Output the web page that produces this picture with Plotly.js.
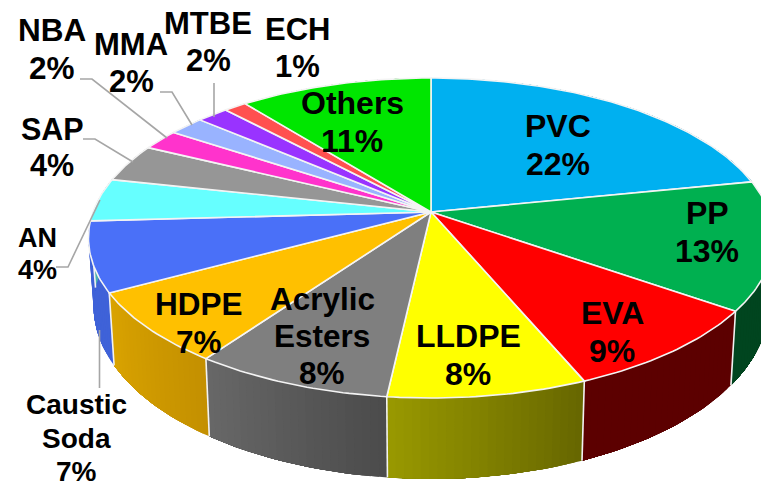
<!DOCTYPE html>
<html>
<head>
<meta charset="utf-8">
<script src="https://cdn.plot.ly/plotly-3.0.1.min.js"></script>
<style>html,body{margin:0;padding:0;background:#fff}#chart{width:761px;height:483px}</style>
</head>
<body>
<div id="chart"></div>
<script>
var categories = ["PVC","PP","EVA","LLDPE","Acrylic<br>Esters","HDPE","Caustic<br>Soda","AN","SAP","NBA","MMA","MTBE","ECH","Others"];
var values = [21.8,13.0,8.9,8.05,8.05,7.25,7.05,4.35,3.85,2.1,1.95,1.75,1.25,10.65];
var topColors = ["#00B0F0","#00B050","#FF0000","#FFFF00","#7F7F7F","#FFC000","#4A70F8","#66FFFF","#969696","#FF33CC","#99B3FF","#9933FF","#FF5050","#00E600"];
var sideStart = ["#0080B0","#00451F","#5C0000","#666600","#4B4B4B","#C49000","#3F62D8","#48B0B0","#6A6A6A","#B02490","#6C80B4","#6C24B4","#B43838","#00A000"];
var sideEnd   = ["#0080B0","#00451F","#5C0000","#999900","#686868","#D9A300","#3F62D8","#48B0B0","#6A6A6A","#B02490","#6C80B4","#6C24B4","#B43838","#00A000"];

// label placement in the chart's 761x483 space: [x, y, font size]
var labelPlace = [[558,145,32],[707,232,32],[612,332,32],[468,355,32],[322,336,31.5],[199,323,31.5],[76,438,28],[37,254,27],[52,147,30.5],[52,49,31.5],[131,63,31],[208,42,31],[297,48,31],[352,122,32]];
var leaders = [
  [[100,200],[68,267],[56,267]],
  [[99.5,330],[99.5,388]],
  [[133,162],[95,139],[83,139]],
  [[167,138],[92,79],[80,79]],
  [[192,125],[172,92],[160,92]],
  [[214,117],[214,83]]
];

// perspective projection of the pie disc
var CX=431, CY=212, RX=338, RY=155.8, K=0.1625;
function topPt(a){ var u=Math.sin(a), v=Math.cos(a), d=1+K*v; return [CX+RX*u/d, CY-RY*v/d]; }
function lowPt(a){ var p=topPt(a); return [CX+0.985*(p[0]-CX), CY+1.08*(p[1]-CY)+66]; }
function hex(c){ return [1,3,5].map(function(i){return parseInt(c.substr(i,2),16);}); }
function mix(a,b,t){ var x=hex(a),y=hex(b); return "rgb("+x.map(function(v,i){return Math.round(v+(y[i]-v)*t);}).join(",")+")"; }
function poly(pts,fill,lineColor,lineWidth){
  return {type:"scatter",mode:"lines",x:pts.map(function(p){return p[0];}),y:pts.map(function(p){return p[1];}),
    fill:"toself",fillcolor:fill,line:{color:lineColor,width:lineWidth},hoverinfo:"skip",showlegend:false};
}

var total = values.reduce(function(s,v){return s+v;},0);
var sides=[], edges=[], tops=[], cum=0;
values.forEach(function(val,i){
  var a0=cum/total*2*Math.PI; cum+=val; var a1=cum/total*2*Math.PI;
  var n=Math.max(4,Math.round(val*3));
  for(var j=0;j<n;j++){
    // each band reaches to the slice's far end; the next band paints over it, so no seams show
    var s=a0+(a1-a0)*j/n, c=mix(sideStart[i],sideEnd[i],(j+0.5)/n), wall=[], steps=n-j;
    for(var t=0;t<=steps;t++) wall.push(topPt(s+(a1-s)*t/steps));
    for(var t2=steps;t2>=0;t2--) wall.push(lowPt(s+(a1-s)*t2/steps));
    sides.push(poly(wall,c,c,0));
  }
  // white seam between neighbouring side walls
  if(Math.cos(a1)<0.05){
    var p=topPt(a1), q=lowPt(a1);
    edges.push({type:"scatter",mode:"lines",x:[p[0],q[0]],y:[p[1],q[1]],line:{color:"#F2F2F2",width:1.6},hoverinfo:"skip",showlegend:false});
  }
  var pts=[[CX,CY]], m=Math.max(12,Math.round(val*4));
  for(var k=0;k<=m;k++) pts.push(topPt(a0+(a1-a0)*k/m));
  pts.push([CX,CY]);
  tops.push(poly(pts,topColors[i],"#F4F4F4",1.6));
});

var annotations = [];
categories.forEach(function(name,i){
  var lines = name.split("<br>").concat([Math.round(values[i])+"%"]);
  var size = labelPlace[i][2], gap = 1.19*size;
  lines.forEach(function(line,idx){
    annotations.push({x:labelPlace[i][0],y:labelPlace[i][1]+(idx-(lines.length-1)/2)*gap,xref:"x",yref:"y",xanchor:"center",yanchor:"middle",showarrow:false,align:"center",
      text:"<b>"+line+"</b>",font:{family:"Liberation Sans, Arial, sans-serif",size:size,color:"#000"}});
  });
});
var shapes = leaders.map(function(l){
  return {type:"path",xref:"x",yref:"y",path:l.map(function(p,i){return (i?"L":"M")+p[0]+","+p[1];}).join(" "),line:{color:"#A6A6A6",width:1.6}};
});

Plotly.newPlot("chart",sides.concat(edges,tops),{
  width:761,height:483,margin:{l:0,r:0,t:0,b:0},paper_bgcolor:"#fff",plot_bgcolor:"#fff",showlegend:false,
  xaxis:{range:[0,761],visible:false,fixedrange:true},
  yaxis:{range:[483,0],visible:false,fixedrange:true},
  annotations:annotations,shapes:shapes
},{displayModeBar:false,staticPlot:true});
</script>
</body>
</html>
